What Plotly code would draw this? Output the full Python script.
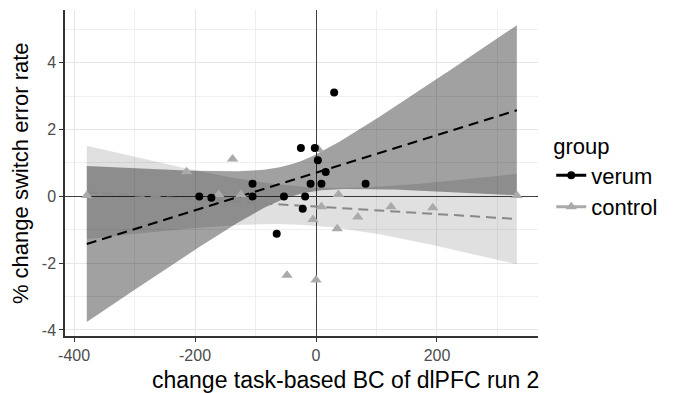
import numpy as np
import plotly.graph_objects as go

# ---- data ----
verum_x = [-193, -173, -105, -105, -53, -65, -22, -18, -9, 9, 16, 3, 82, 30, -25, -2]
verum_y = [0.0, -0.04, 0.38, 0.0, 0.0, -1.12, -0.37, 0.0, 0.38, 0.38, 0.73, 1.08, 0.38, 3.11, 1.45, 1.45]

control_x = [-379, -214, -161, -138, -124, -48, 0, -5, 9, 35, 37, 69, 124, 193, 332, 4]
control_y = [0.03, 0.74, 0.06, 1.12, 0.06, -2.36, -2.5, -0.69, -0.31, -0.97, 0.06, -0.62, -0.31, -0.34, 0.03, 1.4]

x_tick_vals = [-400, -200, 0, 200]
x_tick_text = ["-400", "-200", "0", "200"]
y_tick_vals = [-4, -2, 0, 2, 4]
y_tick_text = ["-4", "-2", "0", "2", "4"]

# two-sided 95% t quantiles by degrees of freedom
T975 = {10: 2.2281, 11: 2.2010, 12: 2.1788, 13: 2.1604, 14: 2.1448,
        15: 2.1314, 16: 2.1199, 17: 2.1098, 18: 2.1009, 19: 2.0930, 20: 2.0860}


def lm_ci(x, y, grid):
    x = np.asarray(x, float)
    y = np.asarray(y, float)
    n = len(x)
    xb, yb = x.mean(), y.mean()
    sxx = ((x - xb) ** 2).sum()
    b = ((x - xb) * (y - yb)).sum() / sxx
    a = yb - b * xb
    res = y - (a + b * x)
    s = np.sqrt((res ** 2).sum() / (n - 2))
    fit = a + b * grid
    se = s * np.sqrt(1.0 / n + (grid - xb) ** 2 / sxx)
    t = T975[n - 2]
    return fit, fit - t * se, fit + t * se


all_x = verum_x + control_x
grid = np.linspace(min(all_x), max(all_x), 120)

v_fit, v_lo, v_hi = lm_ci(verum_x, verum_y, grid)
c_fit, c_lo, c_hi = lm_ci(control_x, control_y, grid)

fig = go.Figure()

# confidence bands
fig.add_trace(go.Scatter(
    x=np.concatenate([grid, grid[::-1]]), y=np.concatenate([c_hi, c_lo[::-1]]),
    fill="toself", fillcolor="rgba(0,0,0,0.12)", line=dict(width=0),
    mode="lines", showlegend=False, hoverinfo="skip"))
fig.add_trace(go.Scatter(
    x=np.concatenate([grid, grid[::-1]]), y=np.concatenate([v_hi, v_lo[::-1]]),
    fill="toself", fillcolor="rgba(0,0,0,0.37)", line=dict(width=0),
    mode="lines", showlegend=False, hoverinfo="skip"))

# fitted lines
fig.add_trace(go.Scatter(x=grid, y=c_fit, mode="lines",
                         line=dict(color="#888888", width=2, dash="10px,6px"),
                         showlegend=False))
fig.add_trace(go.Scatter(x=grid, y=v_fit, mode="lines",
                         line=dict(color="black", width=2, dash="10px,6px"),
                         showlegend=False))

# points
fig.add_trace(go.Scatter(x=control_x, y=control_y, mode="markers",
                         marker=dict(symbol="triangle-up", size=10, color="#aaaaaa"),
                         showlegend=False))
fig.add_trace(go.Scatter(x=verum_x, y=verum_y, mode="markers",
                         marker=dict(symbol="circle", size=8, color="black"),
                         showlegend=False))

# legend keys
fig.add_trace(go.Scatter(x=[None], y=[None], mode="lines+markers", name="verum",
                         line=dict(color="black", width=3),
                         marker=dict(symbol="circle", size=8, color="black")))
fig.add_trace(go.Scatter(x=[None], y=[None], mode="lines+markers", name="control",
                         line=dict(color="#aaaaaa", width=3),
                         marker=dict(symbol="triangle-up", size=10, color="#aaaaaa")))

axis_common = dict(
    showline=True, linecolor="#333333", linewidth=1.5,
    ticks="outside", ticklen=4, tickcolor="#333333", tickwidth=1.2,
    tickfont=dict(family="Liberation Sans, Arial, sans-serif", size=16, color="#4d4d4d"),
    showgrid=True, gridcolor="#e6e6e6", gridwidth=1.2,
    zeroline=True, zerolinecolor="#404040", zerolinewidth=1.4,
)

fig.update_xaxes(range=[-415, 367], tickmode="array", tickvals=x_tick_vals,
                 ticktext=x_tick_text,
                 minor=dict(tickvals=[-300, -100, 100, 300], showgrid=True,
                            gridcolor="#efefef", gridwidth=0.8, ticklen=0),
                 **axis_common)
fig.update_yaxes(range=[-4.18, 5.58], tickmode="array", tickvals=y_tick_vals,
                 ticktext=y_tick_text,
                 minor=dict(tickvals=[-3, -1, 1, 3, 5], showgrid=True,
                            gridcolor="#efefef", gridwidth=0.8, ticklen=0),
                 **axis_common)

# page body has an 8px default margin (top/left), so the figure is 8px smaller
fig.update_layout(
    width=665, height=385,
    margin=dict(l=57, r=135, t=2, b=57),
    paper_bgcolor="white", plot_bgcolor="white",
    font=dict(family="Liberation Sans, Arial, sans-serif", color="black"),
    legend=dict(
        title=dict(text="group", font=dict(size=22)),
        font=dict(size=22),
        x=1.028, xanchor="left", y=0.645, yanchor="top",
        bgcolor="rgba(0,0,0,0)", itemwidth=30,
    ),
    annotations=[
        dict(text="change task-based BC of dlPFC run 2", xref="paper", yref="paper",
             x=0.592, y=-0.135, xanchor="center", yanchor="middle",
             showarrow=False, font=dict(size=23, color="black")),
        dict(text="% change switch error rate", xref="paper", yref="paper",
             x=-0.095, y=0.5, xanchor="center", yanchor="middle", textangle=-90,
             showarrow=False, font=dict(size=22, color="black")),
    ],
)

fig.write_html("out.html")
